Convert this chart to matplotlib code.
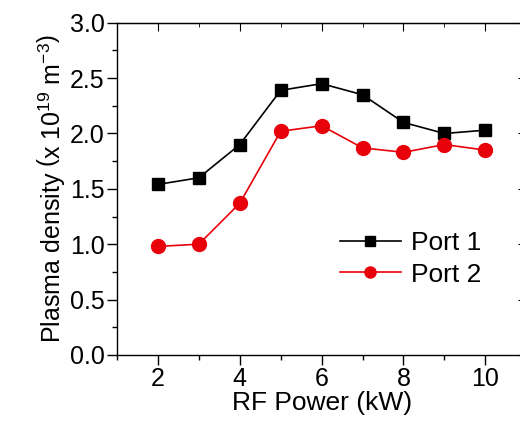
import numpy as np
import matplotlib
matplotlib.use("Agg")
import matplotlib.pyplot as plt
from matplotlib.ticker import MultipleLocator, FormatStrFormatter

plt.rcParams['font.family'] = ['Liberation Sans', 'DejaVu Sans']
plt.rcParams['mathtext.fontset'] = 'custom'
plt.rcParams['mathtext.rm'] = 'Liberation Sans'
plt.rcParams['mathtext.it'] = 'Liberation Sans:italic'

rf_power = [2, 3, 4, 5, 6, 7, 8, 9, 10]
port1 = [1.54, 1.60, 1.90, 2.39, 2.45, 2.35, 2.10, 2.00, 2.03]
port2 = [0.98, 1.00, 1.37, 2.02, 2.07, 1.87, 1.83, 1.90, 1.85]

fig = plt.figure(figsize=(5.2, 4.22), dpi=100)
ax = fig.add_axes([0.225, 0.159, 0.787, 0.787])

ax.plot(rf_power, port1, color='black', linewidth=1.2, marker='s', markersize=8.5, label='Port 1')
ax.plot(rf_power, port2, color='#e8000b', linewidth=1.2, marker='o', markersize=10, label='Port 2')

ax.set_xlim(1, 11)
ax.set_ylim(0, 3.0)
ax.set_xticks([2, 4, 6, 8, 10])
ax.xaxis.set_minor_locator(MultipleLocator(1))
ax.yaxis.set_major_locator(MultipleLocator(0.5))
ax.yaxis.set_minor_locator(MultipleLocator(0.25))
ax.yaxis.set_major_formatter(FormatStrFormatter('%.1f'))

ax.tick_params(which='both', direction='out', top=False, right=False, labelsize=18, width=1, color='black', pad=2)
ax.tick_params(which='major', length=7)
ax.tick_params(which='minor', length=3.5)

# mirrored inward ticks on top and right
ax_top = ax.secondary_xaxis('top')
ax_top.set_xticks([2, 4, 6, 8, 10])
ax_top.xaxis.set_minor_locator(MultipleLocator(1))
ax_top.tick_params(which='both', direction='in', labeltop=False)
ax_top.tick_params(which='major', length=6)
ax_top.tick_params(which='minor', length=3)
ax_right = ax.secondary_yaxis('right')
ax_right.yaxis.set_major_locator(MultipleLocator(0.5))
ax_right.yaxis.set_minor_locator(MultipleLocator(0.25))
ax_right.tick_params(which='both', direction='in', labelright=False)
ax_right.tick_params(which='major', length=6)
ax_right.tick_params(which='minor', length=3)

for s in ax.spines.values():
    s.set_linewidth(1)

ax.set_xlabel('RF Power (kW)', fontsize=19, labelpad=0)
ax.set_ylabel(r'Plasma density $\left(\mathrm{x\ 10^{19}\ m^{-3}}\right)$', fontsize=18, labelpad=2)

ax.legend(loc='center left', bbox_to_anchor=(0.545, 0.289), frameon=False, fontsize=19,
          handlelength=2.3, handletextpad=0.38, labelspacing=0.28, borderpad=0,
          borderaxespad=0, markerscale=0.8)

fig.savefig('out.png', dpi=100)
